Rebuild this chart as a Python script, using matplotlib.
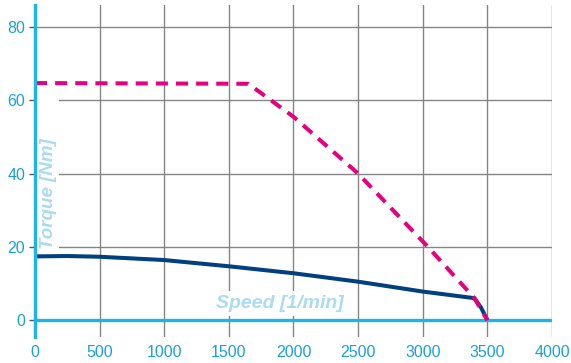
import matplotlib.pyplot as plt
from matplotlib.patches import Rectangle

# Peak torque limit (dashed) and continuous torque (solid) vs. speed
peak_speed = [0, 1650, 1725, 2000, 2500, 3040, 3400, 3500]
peak_torque = [64.7, 64.5, 62.6, 55.5, 40.0, 20.0, 6.0, 0.0]

cont_speed = [0, 250, 500, 1000, 1500, 2000, 2500, 3000, 3400, 3450, 3500]
cont_torque = [17.4, 17.5, 17.3, 16.4, 14.7, 12.8, 10.5, 7.8, 6.0, 3.5, 0.0]

x_ticks = [0, 500, 1000, 1500, 2000, 2500, 3000, 3500, 4000]
y_ticks = [0, 20, 40, 60, 80]

AXIS_CYAN = '#1fb4e6'
TEXT_CYAN = '#1a9fdb'
LABEL_BLUE = '#a9dbf3'
GRID = '#858585'

plt.rcParams['font.family'] = ['Liberation Sans', 'DejaVu Sans']

fig = plt.figure(figsize=(5.71, 3.63), dpi=100)
ax = fig.add_axes([0.0613, 0.0716, 0.9054, 0.9146])

ax.set_xlim(0, 4000)
ax.set_ylim(-4.6, 86)
ax.set_xticks(x_ticks)
ax.set_yticks(y_ticks)

ax.grid(True, color=GRID, linewidth=1.0, zorder=0)
ax.set_axisbelow(True)

for side in ('top', 'right', 'bottom'):
    ax.spines[side].set_visible(False)
ax.spines['left'].set_color(AXIS_CYAN)
ax.spines['left'].set_linewidth(2.4)
ax.spines['left'].set_zorder(5)

ax.tick_params(axis='y', colors='#555555', length=4, width=1.0, pad=3,
               labelcolor=TEXT_CYAN, labelsize=11.5)
ax.tick_params(axis='x', length=0, pad=6, labelcolor=TEXT_CYAN, labelsize=11.5)

# zero torque line
ax.axhline(0, color=AXIS_CYAN, linewidth=2.4, zorder=2)

# white masks behind the axis titles
ax.add_patch(Rectangle((0.004, 0.26), 0.043, 0.49, transform=ax.transAxes,
                       facecolor='white', edgecolor='none', zorder=1))
ax.text(0.027, 0.265, 'Torque [Nm]', transform=ax.transAxes, rotation=90,
        ha='center', va='bottom', fontsize=13.5, fontweight='bold',
        fontstyle='italic', color=LABEL_BLUE, zorder=3)

ax.text(0.474, 0.1, 'Speed [1/min]', transform=ax.transAxes,
        ha='center', va='center', fontsize=14, fontweight='bold',
        fontstyle='italic', color=LABEL_BLUE, zorder=3,
        bbox=dict(facecolor='white', edgecolor='none', pad=3))

ax.plot(cont_speed, cont_torque, color='#003f80', linewidth=2.9,
        solid_capstyle='butt', zorder=4)
ax.plot(peak_speed, peak_torque, color='#e5007d', linewidth=2.9,
        dashes=(3, 2), dash_capstyle='butt', zorder=4)

fig.savefig('out.png', dpi=100)
